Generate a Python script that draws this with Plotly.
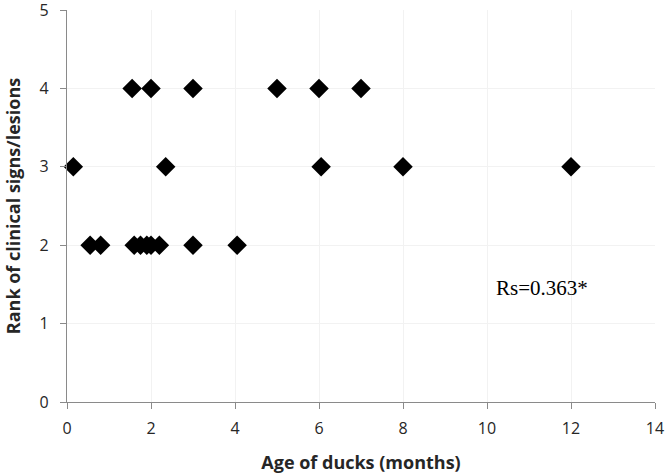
import plotly.graph_objects as go

age_months = [1.55, 2.0, 3.0, 5.0, 6.0, 7.0,
              0.15, 2.35, 6.05, 8.0, 12.0,
              0.55, 0.8, 1.6, 1.75, 1.9, 2.0, 2.2, 3.0, 4.05]
rank = [4, 4, 4, 4, 4, 4,
        3, 3, 3, 3, 3,
        2, 2, 2, 2, 2, 2, 2, 2, 2]
x_ticks = [0, 2, 4, 6, 8, 10, 12, 14]
y_ticks = [0, 1, 2, 3, 4, 5]

fig = go.Figure()
fig.add_trace(go.Scatter(
    x=age_months, y=rank, mode="markers",
    marker=dict(symbol="diamond", size=15, color="black"),
    showlegend=False,
    cliponaxis=False,
))

fig.add_annotation(x=11.3, y=1.46, text="Rs=0.363*", showarrow=False,
                   font=dict(family="Liberation Serif", size=21, color="black"))

axis_common = dict(
    showline=True, linecolor="#8a8a8a", linewidth=1.3,
    ticks="outside", ticklen=6, tickcolor="#8a8a8a",
    showgrid=True, gridcolor="#f2f2f2", gridwidth=1,
    zeroline=False, automargin=False,
    ticklabeloverflow="allow",
    tickfont=dict(family="Open Sans", size=16, color="#262626"),
)

fig.update_xaxes(range=[0, 14], tickvals=x_ticks, ticklabelstandoff=6, **axis_common,
                 title=dict(text="<b>Age of ducks (months)</b>", standoff=18,
                            font=dict(family="Open Sans", size=18, color="#262626")))
fig.update_yaxes(range=[0, 5], tickvals=y_ticks, ticklabelstandoff=8, **axis_common,
                 title=dict(text="<b>Rank of clinical signs/lesions</b>", standoff=14,
                            font=dict(family="Open Sans", size=18, color="#262626")))

fig.update_layout(
    width=669, height=476,
    margin=dict(l=67, r=14, t=10, b=74),
    plot_bgcolor="white", paper_bgcolor="white",
)

fig.write_html("out.html", config={"displayModeBar": False},
               post_script="document.body.style.margin='0';")
